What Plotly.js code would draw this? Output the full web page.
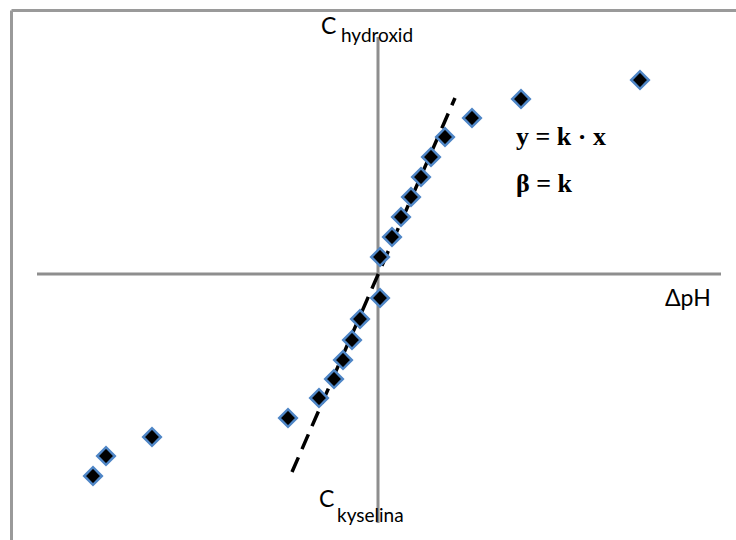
<!DOCTYPE html>
<html>
<head>
<meta charset="utf-8">
<script src="https://cdn.plot.ly/plotly-3.0.1.min.js"></script>
<style>html,body{margin:0;padding:0;background:#fff;}#chart{width:736px;height:540px;}</style>
</head>
<body>
<div id="chart"></div>
<script>
// Measured points (ΔpH, c) — units relative to the axis crossing
var dpH = [2.62, 1.43, 0.94, 0.67, 0.53, 0.43, 0.33, 0.23, 0.14, 0.02, 0.02, -0.18, -0.26, -0.35, -0.44, -0.59, -0.90, -2.26, -2.72, -2.85];
var conc = [1.94, 1.75, 1.56, 1.37, 1.17, 0.97, 0.77, 0.57, 0.37, 0.17, -0.24, -0.45, -0.66, -0.86, -1.05, -1.24, -1.44, -1.63, -1.82, -2.02];
// Linear fit y = k·x
var fitX = [-0.86, 0.77];
var fitY = [-1.98, 1.76];

var W = 736, H = 540;
var xr = [-3.78, 3.58], yr = [-2.66, 2.74];
function X(px){ return xr[0] + (xr[1]-xr[0]) * px / W; }
function Y(py){ return yr[1] - (yr[1]-yr[0]) * py / H; }

var axisCol = '#8e8e8e';
var traces = [
  {x: fitX, y: fitY, mode: 'lines', line: {color: '#000', width: 3.5, dash: '16px,9px'}, hoverinfo: 'skip'},
  {x: dpH, y: conc, mode: 'markers', marker: {symbol: 'diamond', size: 13.5, color: '#000', line: {color: '#4f86c6', width: 2.5}}}
];

var sans = 'Lato, "Open Sans", sans-serif';
var serif = '"Liberation Serif", "DejaVu Serif", serif';
var layout = {
  width: W, height: H,
  margin: {l: 0, r: 0, t: 0, b: 0},
  paper_bgcolor: '#fff', plot_bgcolor: '#fff',
  showlegend: false,
  xaxis: {range: xr, visible: false, fixedrange: true},
  yaxis: {range: yr, visible: false, fixedrange: true},
  shapes: [
    {type: 'line', xref: 'x', yref: 'y', x0: X(37), x1: X(721), y0: 0, y1: 0, line: {color: axisCol, width: 3}, layer: 'below'},
    {type: 'line', xref: 'x', yref: 'y', x0: 0, x1: 0, y0: Y(37), y1: Y(523), line: {color: axisCol, width: 3}, layer: 'below'},
    {type: 'line', xref: 'x', yref: 'y', x0: X(11.5), x1: X(736), y0: Y(10.5), y1: Y(10.5), line: {color: '#9a9a9a', width: 3}, layer: 'below'},
    {type: 'line', xref: 'x', yref: 'y', x0: X(11.5), x1: X(11.5), y0: Y(10.5), y1: Y(540), line: {color: '#9a9a9a', width: 3}, layer: 'below'}
  ],
  annotations: [
    {x: X(319), y: Y(25), xanchor: 'left', yanchor: 'middle', text: 'C', showarrow: false, font: {family: sans, size: 23, color: '#000'}},
    {x: X(339), y: Y(34), xanchor: 'left', yanchor: 'middle', text: 'hydroxid', showarrow: false, font: {family: sans, size: 19, color: '#000'}},
    {x: X(317), y: Y(498), xanchor: 'left', yanchor: 'middle', text: 'C', showarrow: false, font: {family: sans, size: 23, color: '#000'}},
    {x: X(335), y: Y(514), xanchor: 'left', yanchor: 'middle', text: 'kyselina', showarrow: false, font: {family: sans, size: 19, color: '#000'}},
    {x: X(663), y: Y(297), xanchor: 'left', yanchor: 'middle', text: 'ΔpH', showarrow: false, font: {family: sans, size: 23, color: '#000'}},
    {x: X(514), y: Y(136), xanchor: 'left', yanchor: 'middle', text: '<b>y = k · x</b>', showarrow: false, font: {family: serif, size: 26, color: '#000'}},
    {x: X(514), y: Y(183), xanchor: 'left', yanchor: 'middle', text: '<b>β = k</b>', showarrow: false, font: {family: serif, size: 26, color: '#000'}}
  ]
};
Plotly.newPlot('chart', traces, layout, {displayModeBar: false, staticPlot: true});
</script>
</body>
</html>
